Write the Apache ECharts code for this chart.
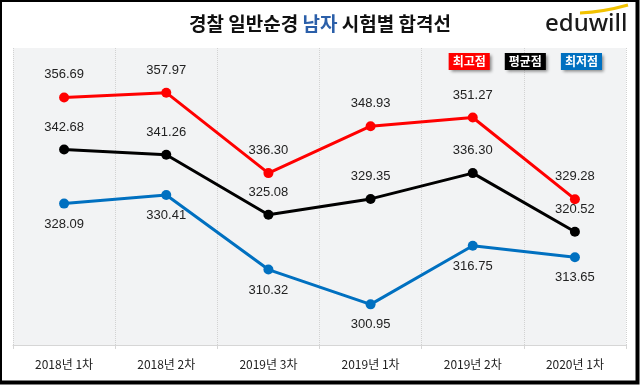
<!DOCTYPE html>
<html>
<head>
<meta charset="utf-8">
<script src="https://cdn.jsdelivr.net/npm/echarts@6/dist/echarts.min.js"></script>
<style>
html,body{margin:0;padding:0;background:#fff;}
#c{width:640px;height:385px;}
</style>
</head>
<body>
<div id="c"></div>
<script>
const categories = ['2018년 1차','2018년 2차','2019년 3차','2019년 1차','2019년 2차','2020년 1차'];
const maxScores = [356.69, 357.97, 336.30, 348.93, 351.27, 329.28];
const avgScores = [342.68, 341.26, 325.08, 329.35, 336.30, 320.52];
const minScores = [328.09, 330.41, 310.32, 300.95, 316.75, 313.65];
const seriesNames = ['최고점','평균점','최저점'];
const colors = ['#ff0000','#000000','#0070c0'];

const chart = echarts.init(document.getElementById('c'), null, {renderer:'canvas'});
const font = '"Liberation Sans", Arial, sans-serif';
function mk(name, data, color, pos, dist){
  return {
    name, type:'line', data, color,
    symbol:'circle', symbolSize:10,
    lineStyle:{width:3, color},
    itemStyle:{color},
    label:{show:true, position:pos, distance:dist, color:'#222', fontSize:13, fontFamily:font,
      formatter:p=>p.value.toFixed(2)},
    z:3
  };
}
chart.setOption({
  animation:false,
  backgroundColor:'#ffffff',
  title:{
    text:'경찰 일반순경 {b|남자} 시험별 합격선',
    left:'center', top:9,
    textStyle:{fontFamily:'"Noto Sans CJK KR", sans-serif', fontSize:19, fontWeight:'bold', color:'#111',
      rich:{b:{fontFamily:'"Noto Sans CJK KR", sans-serif', fontSize:19, fontWeight:'bold', color:'#2b5fa9'}}}
  },
  legend:{
    right:33, top:48, itemGap:10, itemWidth:0, itemHeight:0, icon:'rect',
    selectedMode:false,
    data: seriesNames.map((n,i)=>({name:n, textStyle:{
      color:'#fff', backgroundColor:colors[i], fontWeight:'bold', fontSize:12,
      fontFamily:'"Noto Sans CJK KR", sans-serif',
      padding:[3,4,2,4],
      shadowColor:'rgba(0,0,0,0.45)', shadowBlur:3, shadowOffsetX:2, shadowOffsetY:2
    }}))
  },
  grid:{left:13, right:14, top:48, bottom:40, show:true, backgroundColor:'#f2f3f4', borderWidth:0},
  xAxis:{
    type:'category', data:categories, boundaryGap:true,
    axisLine:{show:true, lineStyle:{color:'#d6d6d6', width:1}},
    axisTick:{show:true, length:4, lineStyle:{color:'#d6d6d6'}},
    splitLine:{show:true, lineStyle:{color:'#d2d2d2', type:'dotted', width:1}},
    axisLabel:{color:'#222', fontSize:12, margin:13, fontFamily:'"Noto Sans CJK KR", sans-serif'}
  },
  yAxis:{
    type:'value', min:290, max:370,
    show:false, splitLine:{show:false}
  },
  series:[
    mk(seriesNames[0], maxScores, colors[0], 'top', 11),
    mk(seriesNames[1], avgScores, colors[1], 'top', 11),
    mk(seriesNames[2], minScores, colors[2], 'bottom', 9)
  ],
  graphic:[
    {type:'text', left:545, top:12, style:{text:'eduwill', fontSize:24, fontFamily:'"Noto Sans", sans-serif', fontWeight:500, fill:'#1a1a1a'}, z:10},
    {type:'bezierCurve', shape:{x1:580, y1:13, cpx1:603, cpy1:12, x2:628, y2:5}, style:{stroke:'#f2c200', lineWidth:3, fill:null}, z:10},
    {type:'rect', shape:{x:0, y:0, width:637.5, height:382.5}, style:{fill:null, stroke:'#000', lineWidth:4}, z:20}
  ]
});
</script>
</body>
</html>
